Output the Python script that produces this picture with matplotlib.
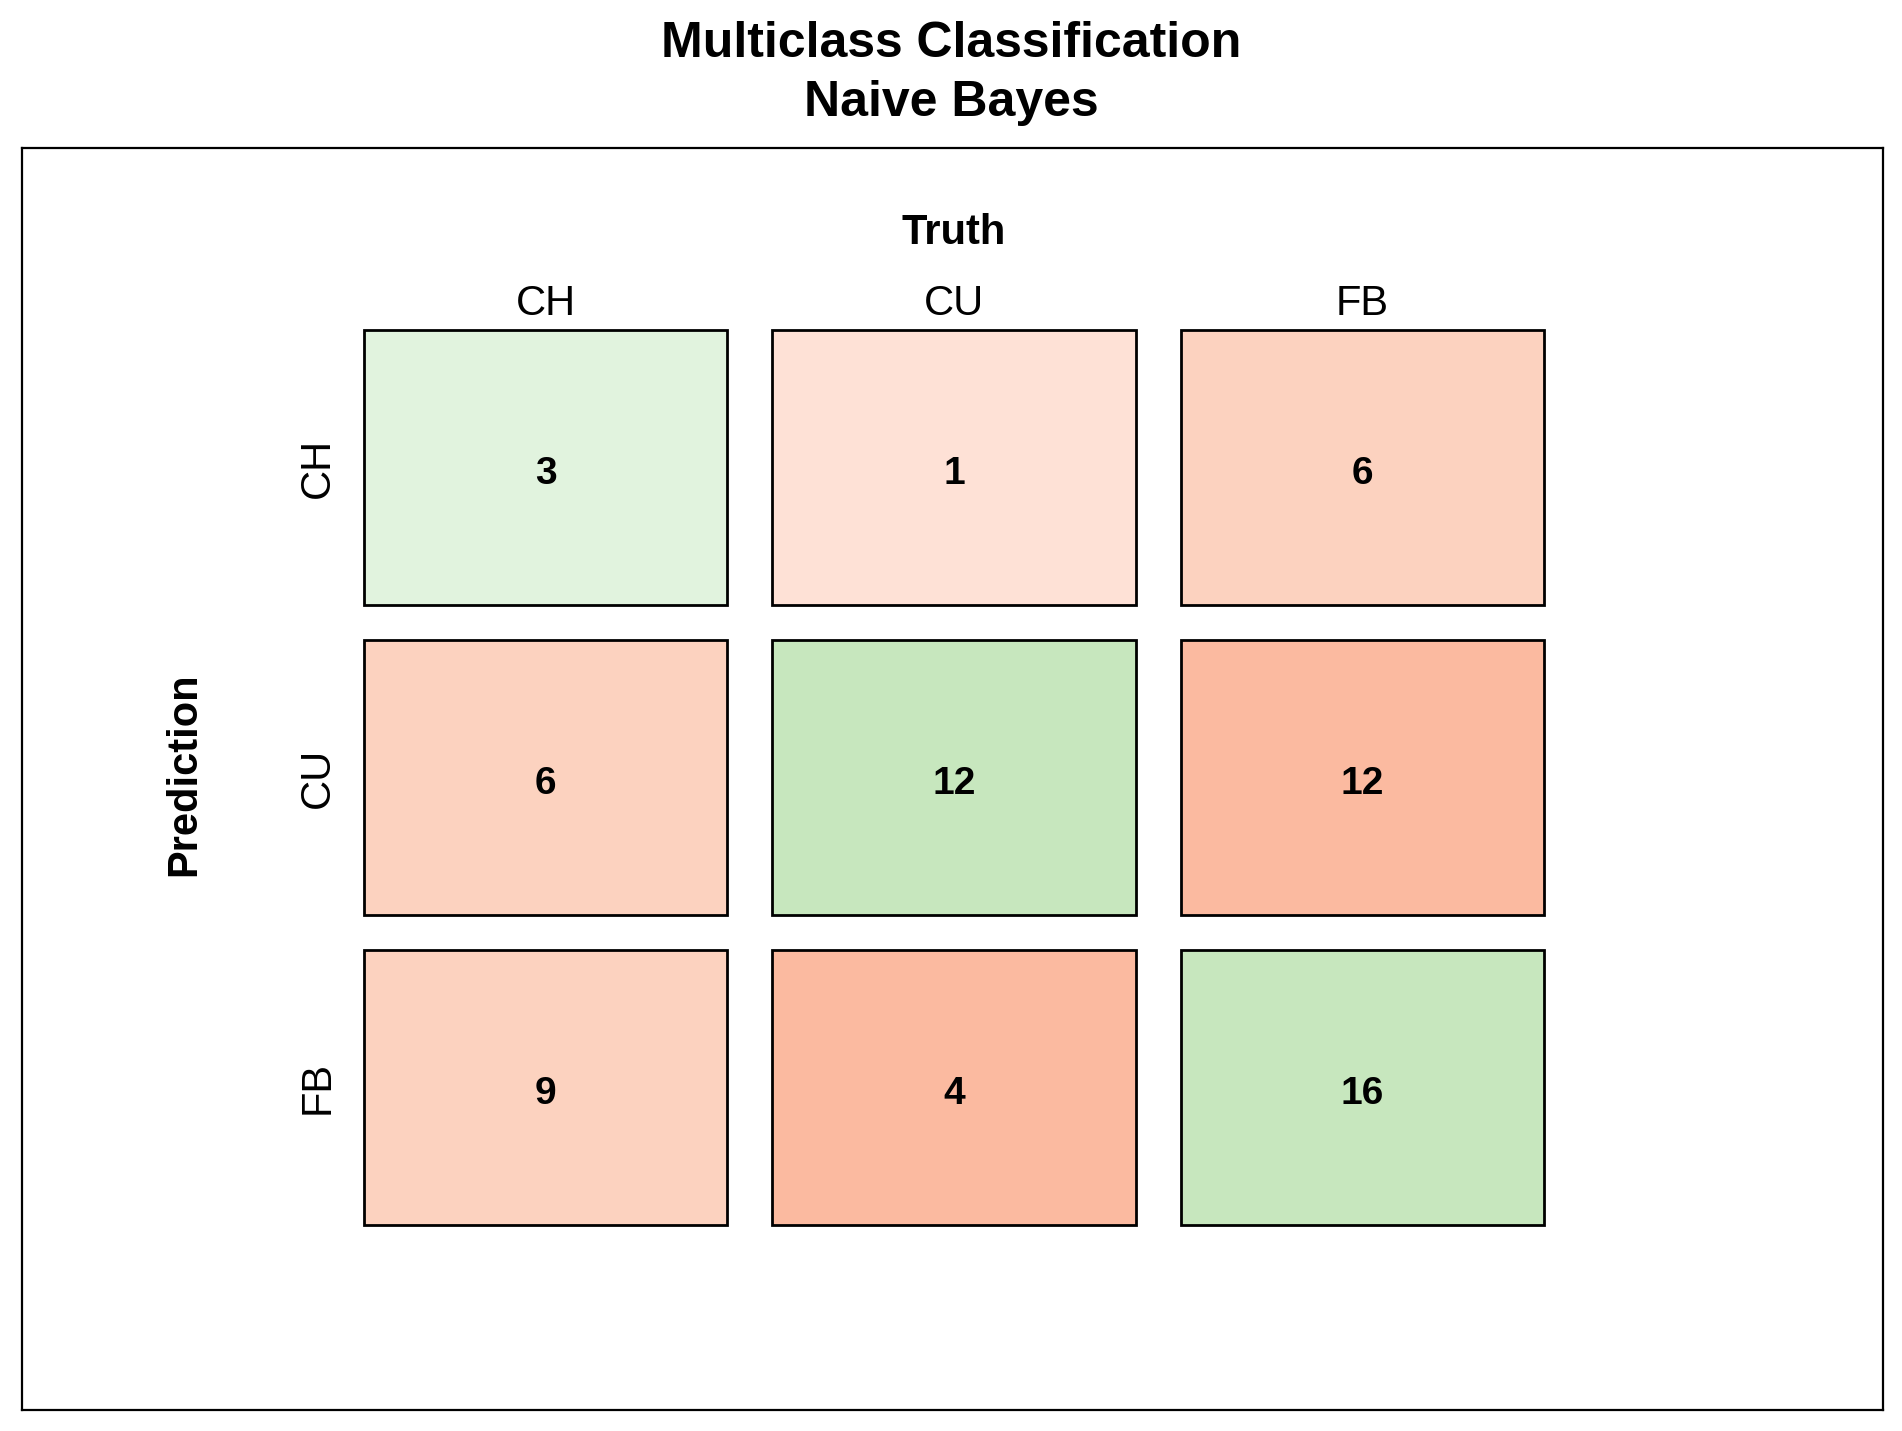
"""
confusion matrix, Naive Bayes
"""
import numpy as np
from matplotlib import pyplot as plt
from matplotlib.patches import Rectangle

plt.rcParams['font.family'] = ['Liberation Sans', 'DejaVu Sans']

classes = ["CH", "CU", "FB"]
# rows = prediction, columns = truth
counts = np.array([
    [3, 1, 6],
    [6, 12, 12],
    [9, 4, 16],
])

# colours (greens on the diagonal, reds elsewhere)
cell_colors = [
    ["#E1F3DE", "#FEE1D6", "#FCD2BF"],
    ["#FCD2BF", "#C7E7BE", "#FBBAA0"],
    ["#FCD2BF", "#FBBAA0", "#C7E7BE"],
]

fig = plt.figure(figsize=(19.02, 14.31), dpi=100)
ax = fig.add_axes([0.01157, 0.01468, 0.9784, 0.8819])
ax.set_xlim(-1.2815, 3.274)
ax.set_ylim(3.039, -1.032)
ax.set_xticks([])
ax.set_yticks([])
for s in ax.spines.values():
    s.set_linewidth(1.6)

w = 0.889
h = 0.887
n = len(classes)
for i in range(n):
    for j in range(n):
        ax.add_patch(Rectangle((j - w/2, i - h/2), w, h,
                               facecolor=cell_colors[i][j], edgecolor="black", linewidth=2))
        ax.text(j, i + 0.02, str(counts[i, j]), ha="center", va="center",
                fontsize=28, fontweight="bold")

for j, c in enumerate(classes):
    ax.text(j, -0.530, c, ha="center", va="center", fontsize=30)
for i, c in enumerate(classes):
    ax.text(-0.557, i, c, ha="center", va="center", fontsize=30, rotation=90)

ax.text(1, -0.759, "Truth", ha="center", va="center", fontsize=30, fontweight="bold")
ax.text(-0.884, 0.988, "Prediction", ha="center", va="center", fontsize=30,
        fontweight="bold", rotation=90)

fig.text(0.5, 0.9695, "Multiclass Classification", ha="center", va="center",
         fontsize=36, fontweight="bold")
fig.text(0.5, 0.928, "Naive Bayes", ha="center", va="center",
         fontsize=36, fontweight="bold")

fig.savefig("out.png", dpi=100)
